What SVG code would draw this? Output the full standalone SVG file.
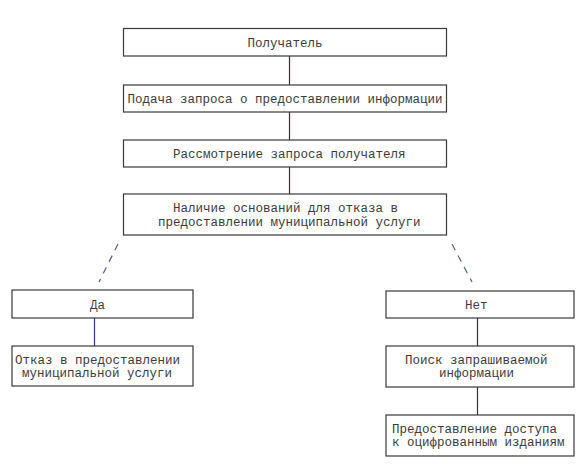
<svg xmlns="http://www.w3.org/2000/svg" width="580" height="467" viewBox="0 0 580 467">
<style>
.box{fill:#fff;stroke:#3a3a3a;stroke-width:1.2}
.t{font-family:"Liberation Mono","DejaVu Sans Mono",monospace;font-size:12.5px;fill:#3c3c3c}
.c{text-anchor:middle}
.ln{stroke:#3a3030;stroke-width:1.2;fill:none}
.dash{stroke:#55607a;stroke-width:1.2;stroke-dasharray:7 6;fill:none}
</style>
<rect width="580" height="467" fill="#fff"/>
<g id="connectors">
<line class="ln" x1="289.5" y1="56" x2="289.5" y2="85"/>
<line class="ln" x1="289.5" y1="112" x2="289.5" y2="140"/>
<line class="ln" x1="289.5" y1="167" x2="289.5" y2="194"/>
<line class="dash" x1="118" y1="244" x2="99" y2="282"/>
<line class="dash" x1="452" y1="244" x2="472" y2="282"/>
<line class="ln" x1="94.5" y1="318" x2="94.5" y2="346" style="stroke:#2a3a8a"/>
<line class="ln" x1="477.5" y1="318" x2="477.5" y2="346"/>
<line class="ln" x1="477.5" y1="387" x2="477.5" y2="415"/>
</g>
<g id="n1"><rect class="box" x="123.5" y="28.5" width="323" height="27.5"/><text class="t c" x="285" y="47">Получатель</text></g>
<g id="n2"><rect class="box" x="123.5" y="85" width="323" height="27"/><text class="t c" x="285" y="103">Подача запроса о предоставлении информации</text></g>
<g id="n3"><rect class="box" x="123.5" y="140" width="323" height="27"/><text class="t" x="173" y="158">Рассмотрение запроса получателя</text></g>
<g id="n4"><rect class="box" x="123.5" y="194" width="323" height="41"/><text class="t" x="173" y="212">Наличие оснований для отказа в</text><text class="t" x="158" y="226">предоставлении муниципальной услуги</text></g>
<g id="n5"><rect class="box" x="12" y="290" width="181" height="28"/><text class="t" x="90" y="309">Да</text></g>
<g id="n6"><rect class="box" x="12" y="346" width="181" height="40"/><text class="t" x="15" y="364">Отказ в предоставлении</text><text class="t" x="22" y="377">муниципальной услуги</text></g>
<g id="n7"><rect class="box" x="386" y="291" width="188" height="27"/><text class="t" x="465" y="309">Нет</text></g>
<g id="n8"><rect class="box" x="386" y="346" width="188" height="41"/><text class="t" x="405" y="364">Поиск запрашиваемой</text><text class="t" x="439" y="377">информации</text></g>
<g id="n9"><rect class="box" x="386" y="415" width="188" height="41"/><text class="t" x="392" y="433">Предоставление доступа</text><text class="t" x="392" y="446">к оцифрованным изданиям</text></g>
</svg>
